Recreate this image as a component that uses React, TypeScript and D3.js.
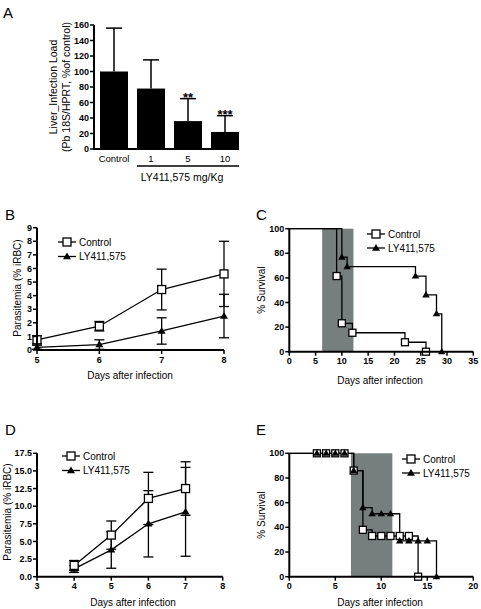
import React from "react";
import * as d3 from "d3";

// ---------- Panel A data ----------
const aCategories = ["Control", "1", "5", "10"];
const aMeans = [100, 78, 36, 22];
const aErrors = [56, 37, 29, 21];
const aStars = ["", "", "**", "***"];
const aTicks = [0, 20, 40, 60, 80, 100, 120, 140, 160];

// ---------- Panel B data ----------
const bDays = [5, 6, 7, 8];
const bControl = [0.75, 1.75, 4.45, 5.6];
const bControlErr = [0.3, 0.35, 1.5, 2.4];
const bLY = [0.2, 0.4, 1.4, 2.5];
const bLYErr = [0.15, 0.35, 0.97, 1.6];
const bYTicks = [0, 1, 2, 3, 4, 5, 6, 7, 8, 9];

// ---------- Panel C data ----------
const cControlDays = [9, 10, 12, 22, 26];
const cControlSurv = [61.5, 23.1, 15.4, 7.7, 0];
const cLYDays = [10, 11, 24, 26, 28, 29];
const cLYSurv = [76.9, 69.2, 61.5, 46.2, 30.8, 0];
const cShade = [6.25, 12.2];
const cXTicks = [0, 5, 10, 15, 20, 25, 30, 35];

// ---------- Panel D data ----------
const dDays = [4, 5, 6, 7];
const dControl = [1.6, 5.9, 11.1, 12.5];
const dControlErr = [0.7, 2.0, 3.7, 3.8];
const dLY = [1.1, 3.8, 7.5, 9.2];
const dLYErr = [0.5, 2.6, 4.7, 6.3];
const dYTicks = [0, 2.5, 5, 7.5, 10, 12.5, 15, 17.5];
const dXTicks = [3, 4, 5, 6, 7, 8];

// ---------- Panel E data ----------
const eControlDays = [3, 4, 5, 6, 7, 8, 9, 10, 11, 12, 13, 14];
const eControlSurv = [100, 100, 100, 100, 86, 38, 33, 33, 33, 33, 33, 0];
const eLYDays = [3, 4, 5, 6, 7, 8, 9, 10, 11, 12, 13, 14, 15, 16];
const eLYSurv = [100, 100, 100, 100, 86, 56, 51, 51, 51, 29, 29, 29, 29, 0];
const eShade = [6.7, 11.2];
const eXTicks = [0, 5, 10, 15, 20];
const survTicks = [0, 20, 40, 60, 80, 100];

const seriesNames = ["Control", "LY411,575"];

const FONT = "'Liberation Sans', Arial, Helvetica, sans-serif";
const SHADE = "#767e7e";

type Scale = d3.ScaleLinear<number, number>;

function YAxis({ scale, x, ticks, fmt }: { scale: Scale; x: number; ticks: number[]; fmt: (v: number) => string }) {
  const [r0, r1] = scale.range();
  return (
    <g>
      <line x1={x} x2={x} y1={r0 + 1} y2={r1} stroke="#000" strokeWidth={2} />
      {ticks.map((t) => (
        <g key={t}>
          <line x1={x - 4} x2={x} y1={scale(t)} y2={scale(t)} stroke="#000" strokeWidth={1.5} />
          <text x={x - 5} y={scale(t)} dy="0.35em" textAnchor="end" fontSize={9} fontWeight="bold">
            {fmt(t)}
          </text>
        </g>
      ))}
    </g>
  );
}

function XAxis({ scale, y, ticks }: { scale: Scale; y: number; ticks: number[] }) {
  const [r0, r1] = scale.range();
  return (
    <g>
      <line x1={r0 - 1} x2={r1} y1={y} y2={y} stroke="#000" strokeWidth={2} />
      {ticks.map((t) => (
        <g key={t}>
          <line x1={scale(t)} x2={scale(t)} y1={y} y2={y + 4} stroke="#000" strokeWidth={1.5} />
          <text x={scale(t)} y={y + 12.5} textAnchor="middle" fontSize={9} fontWeight="bold">
            {t}
          </text>
        </g>
      ))}
    </g>
  );
}

function Square({ x, y, s = 8 }: { x: number; y: number; s?: number }) {
  return <rect x={x - s / 2} y={y - s / 2} width={s} height={s} fill="#fff" stroke="#000" strokeWidth={1.3} />;
}

function Triangle({ x, y, s = 8 }: { x: number; y: number; s?: number }) {
  const h = s * 0.85;
  return <path d={`M${x},${y - h * 0.6} L${x + s / 2},${y + h * 0.4} L${x - s / 2},${y + h * 0.4} Z`} fill="#000" />;
}

function Legend({ x, y, gap }: { x: number; y: number; gap: number }) {
  return (
    <g>
      {seriesNames.map((n, i) => (
        <g key={n}>
          <line x1={x} x2={x + 18} y1={y + i * gap} y2={y + i * gap} stroke="#000" strokeWidth={1.3} />
          {i === 0 ? <Square x={x + 9} y={y} /> : <Triangle x={x + 9} y={y + gap} />}
          <text x={x + 21} y={y + i * gap} dy="0.35em" fontSize={10}>
            {n}
          </text>
        </g>
      ))}
    </g>
  );
}

function ErrorBar({ x, y1, y2, w = 10 }: { x: number; y1: number; y2: number; w?: number }) {
  return (
    <g stroke="#000" strokeWidth={1.3}>
      <line x1={x} x2={x} y1={y1} y2={y2} />
      <line x1={x - w / 2} x2={x + w / 2} y1={y1} y2={y1} />
      <line x1={x - w / 2} x2={x + w / 2} y1={y2} y2={y2} />
    </g>
  );
}

function YTitle({ x, y, text, size = 10 }: { x: number; y: number; text: string; size?: number }) {
  return (
    <text transform={`translate(${x},${y}) rotate(-90)`} dy="0.35em" textAnchor="middle" fontSize={size}>
      {text}
    </text>
  );
}

function PanelA() {
  const y = d3.scaleLinear().domain([0, 160]).range([149, 25]);
  const x = d3.scalePoint<string>().domain(aCategories).range([114, 225]);
  const bw = 28;
  return (
    <g>
      <text x={3} y={18} fontSize={15}>A</text>
      {aCategories.map((c, i) => {
        const cx = x(c)!;
        const top = y(aMeans[i]);
        const errY = y(aMeans[i] + aErrors[i]);
        return (
          <g key={c}>
            <rect x={cx - bw / 2} y={top} width={bw} height={y(0) - top} fill="#000" />
            <line x1={cx} x2={cx} y1={top} y2={errY} stroke="#000" strokeWidth={1.5} />
            <line x1={cx - 8} x2={cx + 8} y1={errY} y2={errY} stroke="#000" strokeWidth={1.5} />
            {aStars[i] && (
              <text x={cx} y={errY + 3} textAnchor="middle" fontSize={13} fontWeight="bold">
                {aStars[i]}
              </text>
            )}
            <text x={cx} y={y(0) + 12.5} textAnchor="middle" fontSize={9.5}>
              {c}
            </text>
          </g>
        );
      })}
      <YAxis scale={y} x={94} ticks={aTicks} fmt={(v) => String(v)} />
      <line x1={93} x2={239} y1={149} y2={149} stroke="#000" strokeWidth={2} />
      <line x1={137} x2={239} y1={166} y2={166} stroke="#000" strokeWidth={1.3} />
      <text x={182} y={177} dy="0.35em" textAnchor="middle" fontSize={10.5}>
        LY411,575 mg/Kg
      </text>
      <text transform="translate(53,87) rotate(-90)" dy="0.35em" textAnchor="middle" fontSize={10.5}>
        Liver_Infection Load
      </text>
      <text transform="translate(66,87) rotate(-90)" dy="0.35em" textAnchor="middle" fontSize={10.5}>
        (Pb 18S/HPRT, %of control)
      </text>
    </g>
  );
}

function ParasitemiaPanel({
  label, labelY, days, ctrl, ctrlErr, ly, lyErr, xDomain, xTicks, yDomain, yTicks, yRange, fmt, legendX, legendY, xTitleY, yTitleX, yTitleY, xTitleX,
}: any) {
  const x = d3.scaleLinear().domain(xDomain).range([37, xDomain[1] === 8 && xDomain[0] === 5 ? 224 : 222.7]);
  const y = d3.scaleLinear().domain(yDomain).range(yRange);
  const line = d3.line<number>().x((_, i) => x(days[i])).y((v) => y(v));
  return (
    <g>
      <text x={5} y={labelY} fontSize={15}>{label}</text>
      <path d={line(ctrl)!} fill="none" stroke="#000" strokeWidth={1.3} />
      <path d={line(ly)!} fill="none" stroke="#000" strokeWidth={1.3} />
      {days.map((d: number, i: number) => (
        <g key={d}>
          <ErrorBar x={x(d)} y1={y(ctrl[i] + ctrlErr[i])} y2={y(Math.max(0, ctrl[i] - ctrlErr[i]))} />
          <ErrorBar x={x(d)} y1={y(ly[i] + lyErr[i])} y2={y(Math.max(0, ly[i] - lyErr[i]))} />
        </g>
      ))}
      {days.map((d: number, i: number) => (
        <g key={d}>
          <Triangle x={x(d)} y={y(ly[i])} />
          <Square x={x(d)} y={y(ctrl[i])} />
        </g>
      ))}
      <YAxis scale={y} x={37} ticks={yTicks} fmt={fmt} />
      <XAxis scale={x} y={y(0)} ticks={xTicks} />
      <Legend x={legendX} y={legendY} gap={14.5} />
      <text x={xTitleX} y={xTitleY} dy="0.35em" textAnchor="middle" fontSize={10}>
        Days after infection
      </text>
      <YTitle x={yTitleX} y={yTitleY} text="Parasitemia (% iRBC)" />
    </g>
  );
}

function SurvivalPanel({
  label, labelY, cDays, cSurv, lDays, lSurv, shade, xMax, xTicks, yRange, legendX, legendY, xTitleY, yTitleY,
}: any) {
  const x = d3.scaleLinear().domain([0, xMax]).range([289.3, 473.3]);
  const y = d3.scaleLinear().domain([0, 100]).range(yRange);
  const step = d3
    .line<[number, number]>()
    .x((p) => x(p[0]))
    .y((p) => y(p[1]))
    .curve(d3.curveStepAfter);
  const cPts: [number, number][] = [[0, 100], ...cDays.map((d: number, i: number) => [d, cSurv[i]] as [number, number])];
  const lPts: [number, number][] = [[0, 100], ...lDays.map((d: number, i: number) => [d, lSurv[i]] as [number, number])];
  return (
    <g>
      <text x={256} y={labelY} fontSize={15}>{label}</text>
      <rect x={x(shade[0])} y={y(100)} width={x(shade[1]) - x(shade[0])} height={y(0) - y(100)} fill={SHADE} />
      <path d={step(cPts)!} fill="none" stroke="#000" strokeWidth={1.3} />
      <path d={step(lPts)!} fill="none" stroke="#000" strokeWidth={1.3} />
      {cDays.map((d: number, i: number) => (
        <Square key={"c" + d} x={x(d)} y={y(cSurv[i])} s={7} />
      ))}
      {lDays.map((d: number, i: number) => (
        <Triangle key={"l" + d} x={x(d)} y={y(lSurv[i])} s={7.5} />
      ))}
      <YAxis scale={y} x={289.3} ticks={survTicks} fmt={(v) => String(v)} />
      <XAxis scale={x} y={y(0)} ticks={xTicks} />
      <Legend x={legendX} y={legendY} gap={14} />
      <text x={380} y={xTitleY} dy="0.35em" textAnchor="middle" fontSize={10}>
        Days after infection
      </text>
      <YTitle x={261} y={yTitleY} text="% Survival" />
    </g>
  );
}

export default function App() {
  return (
    <div style={{ position: "absolute", left: 0, top: 0, background: "#fff" }}>
      <svg width={481} height={609} style={{ display: "block", fontFamily: FONT }}>
        <rect width={481} height={609} fill="#fff" />
        <PanelA />
        <ParasitemiaPanel
          label="B" labelY={220} days={bDays} ctrl={bControl} ctrlErr={bControlErr} ly={bLY} lyErr={bLYErr}
          xDomain={[5, 8]} xTicks={bDays} yDomain={[0, 9]} yTicks={bYTicks} yRange={[350, 227.7]}
          fmt={(v: number) => String(v)} legendX={58} legendY={242} xTitleY={375} xTitleX={130}
          yTitleX={17} yTitleY={288}
        />
        <SurvivalPanel
          label="C" labelY={220} cDays={cControlDays} cSurv={cControlSurv} lDays={cLYDays} lSurv={cLYSurv}
          shade={cShade} xMax={35} xTicks={cXTicks} yRange={[351.7, 228.7]} legendX={367} legendY={234}
          xTitleY={380} yTitleY={290}
        />
        <ParasitemiaPanel
          label="D" labelY={435} days={dDays} ctrl={dControl} ctrlErr={dControlErr} ly={dLY} lyErr={dLYErr}
          xDomain={[3, 8]} xTicks={dXTicks} yDomain={[0, 17.5]} yTicks={dYTicks} yRange={[576.7, 453.3]}
          fmt={(v: number) => v.toFixed(1)} legendX={62} legendY={456} xTitleY={602.5} xTitleX={133}
          yTitleX={7} yTitleY={512}
        />
        <SurvivalPanel
          label="E" labelY={435} cDays={eControlDays} cSurv={eControlSurv} lDays={eLYDays} lSurv={eLYSurv}
          shade={eShade} xMax={20} xTicks={eXTicks} yRange={[576.7, 453.3]} legendX={402} legendY={459}
          xTitleY={602.5} yTitleY={515}
        />
      </svg>
    </div>
  );
}
